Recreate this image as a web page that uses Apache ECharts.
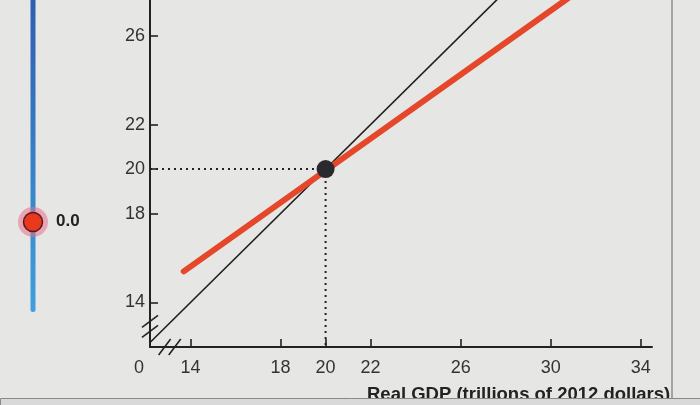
<!DOCTYPE html>
<html>
<head>
<meta charset="utf-8">
<script src="https://cdn.jsdelivr.net/npm/echarts@6/dist/echarts.min.js"></script>
<style>
html,body{margin:0;padding:0;background:#e6e6e4;}
#chart{width:700px;height:405px;}
</style>
</head>
<body>
<div id="chart"></div>
<script>
// ---- data ----
var xTicks = [14, 18, 20, 22, 26, 30, 34];
var yTicks = [14, 18, 20, 22, 26];
var line45 = [[12.2, 12.2], [27.8, 27.8]];
var redLine = [[13.7, 15.4], [30.8, 27.7]];
var eqPoint = [[20, 20]];
var hDotted = [[12.2, 20], [20, 20]];
var vDotted = [[20, 20], [20, 12]];
var breakMarksY = [[12.2, 13.15], [12.2, 12.7]];
var breakMarksX = [[12.85, 12], [13.3, 12]];
var sliderValue = '0.0';
var xName = 'Real GDP (trillions of 2012 dollars)';

var chart = echarts.init(document.getElementById('chart'));
var font = 'Liberation Sans, Arial, sans-serif';

function slashRenderer(dx, dy) {
  return function (params, api) {
    var p = api.coord([api.value(0), api.value(1)]);
    return {
      type: 'line',
      shape: {x1: p[0] - dx, y1: p[1] + dy, x2: p[0] + dx, y2: p[1] - dy},
      style: {stroke: '#222', lineWidth: 1.6}
    };
  };
}

var option = {
  backgroundColor: '#e6e6e4',
  animation: false,
  grid: {left: 150, right: 48, top: 0, bottom: 58, containLabel: false},
  xAxis: {
    type: 'value', min: 12.2, max: 34.5,
    axisLine: {show: true, lineStyle: {color: '#222', width: 2}},
    axisTick: {show: true, inside: true, length: 8, lineStyle: {color: '#222', width: 1.6}, customValues: xTicks},
    axisLabel: {show: true, customValues: xTicks, color: '#333', fontSize: 18, fontFamily: font, margin: 12},
    splitLine: {show: false}
  },
  yAxis: {
    type: 'value', min: 12, max: 27.6,
    axisLine: {show: true, lineStyle: {color: '#222', width: 2}},
    axisTick: {show: true, inside: true, length: 8, lineStyle: {color: '#222', width: 1.6}, customValues: yTicks},
    axisLabel: {show: true, customValues: yTicks, color: '#333', fontSize: 18, fontFamily: font, margin: 5},
    splitLine: {show: false}
  },
  series: [
    {type: 'line', data: hDotted, symbol: 'none', lineStyle: {color: '#222', width: 2, type: [2, 4]}, z: 2},
    {type: 'line', data: vDotted, symbol: 'none', lineStyle: {color: '#222', width: 2, type: [2, 4]}, z: 2},
    {type: 'line', data: line45, symbol: 'none', lineStyle: {color: '#1e1e1e', width: 1.6}, z: 3},
    {type: 'line', data: redLine, symbol: 'none', lineStyle: {color: '#e4472a', width: 6, cap: 'round'}, z: 4},
    {type: 'scatter', data: eqPoint, symbolSize: 18, itemStyle: {color: '#2a2a2e', opacity: 1}, z: 5},
    {type: 'custom', data: breakMarksY, renderItem: slashRenderer(8, 6), clip: false, z: 6},
    {type: 'custom', data: breakMarksX, renderItem: slashRenderer(6, 8), clip: false, z: 6}
  ],
  graphic: [
    {type: 'text', left: 134, top: 359, style: {text: '0', fill: '#333', font: '18px ' + font}},
    {type: 'text', left: 367, top: 385, z: 10, style: {text: xName, fill: '#222', font: 'bold 18.5px ' + font}},
    {type: 'rect', left: 0, top: 398, shape: {width: 700, height: 7}, z: 20, style: {fill: '#d9d9d9', stroke: '#8a8a8a', lineWidth: 1}},
    {type: 'line', shape: {x1: 672, y1: 0, x2: 672, y2: 398}, z: 20, style: {stroke: '#8e8e8e', lineWidth: 1.5}},
    {type: 'rect', shape: {x: 30.5, y: -5, width: 5, height: 317, r: 2.5}, z: 10,
      style: {fill: new echarts.graphic.LinearGradient(0, 0, 0, 1, [{offset: 0, color: '#2f5db0'}, {offset: 1, color: '#3f9fdc'}])}},
    {type: 'circle', shape: {cx: 33, cy: 222, r: 15}, z: 11, style: {fill: 'rgba(230,110,140,0.55)'}},
    {type: 'circle', shape: {cx: 33, cy: 222, r: 9.5}, z: 12, style: {fill: '#e8391f', stroke: '#5a1a1a', lineWidth: 1.5}},
    {type: 'text', left: 56, top: 213, z: 12, style: {text: sliderValue, fill: '#222', font: 'bold 17px ' + font}}
  ]
};
chart.setOption(option);
</script>
</body>
</html>
